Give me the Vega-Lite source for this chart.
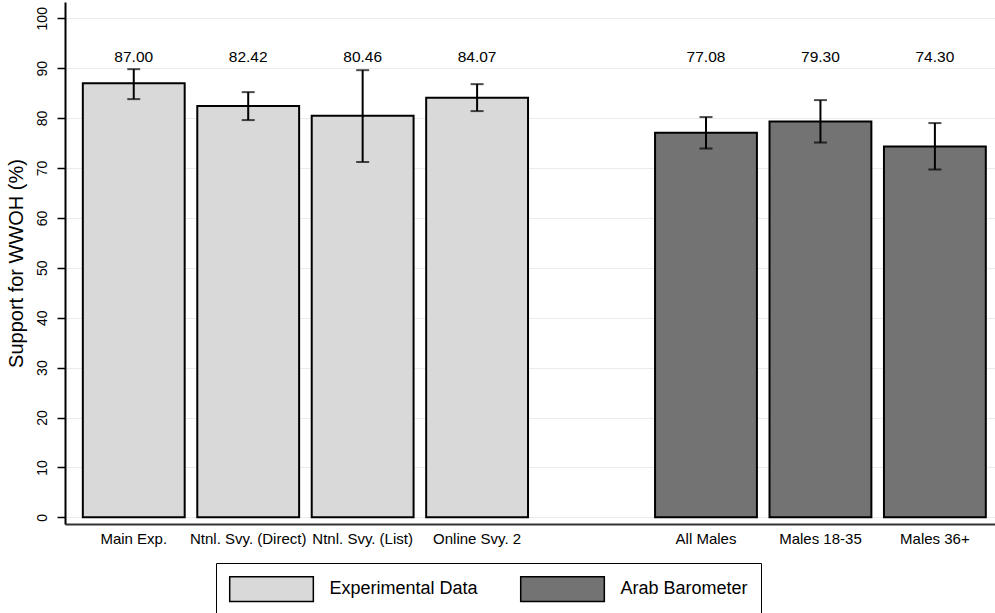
{
  "$schema": "https://vega.github.io/schema/vega-lite/v6.json",
  "width": 930,
  "height": 522,
  "autosize": {"type": "none"},
  "padding": {"left": 65, "top": 2, "right": 0, "bottom": 89},
  "background": "white",
  "config": {
    "view": {"stroke": null},
    "font": "Liberation Sans"
  },
  "data": {
    "values": [
      {"cat": "Main Exp.", "group": "Experimental Data", "value": 87.00, "lo": 83.8, "hi": 89.8},
      {"cat": "Ntnl. Svy. (Direct)", "group": "Experimental Data", "value": 82.42, "lo": 79.6, "hi": 85.2},
      {"cat": "Ntnl. Svy. (List)", "group": "Experimental Data", "value": 80.46, "lo": 71.2, "hi": 89.6},
      {"cat": "Online Svy. 2", "group": "Experimental Data", "value": 84.07, "lo": 81.4, "hi": 86.8},
      {"cat": "All Males", "group": "Arab Barometer", "value": 77.08, "lo": 73.9, "hi": 80.2},
      {"cat": "Males 18-35", "group": "Arab Barometer", "value": 79.30, "lo": 75.1, "hi": 83.6},
      {"cat": "Males 36+", "group": "Arab Barometer", "value": 74.30, "lo": 69.7, "hi": 79.0}
    ]
  },
  "encoding": {
    "x": {
      "field": "cat",
      "type": "nominal",
      "sort": null,
      "scale": {
        "domain": ["Main Exp.", "Ntnl. Svy. (Direct)", "Ntnl. Svy. (List)", "Online Svy. 2", " ", "All Males", "Males 18-35", "Males 36+"],
        "paddingInner": 0.11,
        "paddingOuter": 0.118,
        "align": 0.66
      },
      "axis": {
        "title": null,
        "labelAngle": 0,
        "ticks": false,
        "labelPadding": 7,
        "labelFontSize": 15,
        "labelColor": "black",
        "labelLimit": 200,
        "labelOverlap": false,
        "domainColor": "#333333",
        "domainWidth": 2,
        "grid": false
      }
    }
  },
  "layer": [
    {
      "mark": {"type": "bar", "stroke": "black", "strokeWidth": 2},
      "encoding": {
        "y": {
          "field": "value",
          "type": "quantitative",
          "scale": {"domain": [-1.34, 103.26], "nice": false, "zero": false},
          "axis": {
            "title": "Support for WWOH (%)",
            "titleFontSize": 20,
            "titleFontWeight": "normal",
            "titleColor": "black",
            "titlePadding": 9,
            "values": [0, 10, 20, 30, 40, 50, 60, 70, 80, 90, 100],
            "labelAngle": -90,
            "labelFontSize": 14,
            "labelColor": "black",
            "labelPadding": 8,
            "tickSize": 8,
            "tickColor": "black",
            "tickWidth": 1.5,
            "domainColor": "black",
            "domainWidth": 2,
            "grid": true,
            "gridColor": "#ebebeb",
            "gridWidth": 1
          }
        },
        "fill": {
          "field": "group",
          "type": "nominal",
          "scale": {"domain": ["Experimental Data", "Arab Barometer"], "range": ["#d9d9d9", "#737373"]},
          "legend": {
            "title": null,
            "orient": "none",
            "legendX": 151,
            "legendY": 561,
            "direction": "horizontal",
            "gridAlign": "all",
            "symbolType": "M-1,-1H5.8V1H-1Z",
            "symbolSize": 605,
            "symbolStrokeColor": "black",
            "symbolStrokeWidth": 1.5,
            "symbolOpacity": 1,
            "labelFontSize": 18,
            "labelColor": "black",
            "labelOffset": 74,
            "labelLimit": 400,
            "columnPadding": 39,
            "padding": 12.5,
            "strokeColor": "black",
            "fillColor": "white"
          }
        }
      }
    },
    {
      "mark": {"type": "rule", "color": "black", "strokeWidth": 2},
      "encoding": {
        "y": {"field": "lo", "type": "quantitative"},
        "y2": {"field": "hi"}
      }
    },
    {
      "mark": {"type": "tick", "color": "black", "thickness": 2, "size": 13, "orient": "horizontal"},
      "encoding": {"y": {"field": "lo", "type": "quantitative"}}
    },
    {
      "mark": {"type": "tick", "color": "black", "thickness": 2, "size": 13, "orient": "horizontal"},
      "encoding": {"y": {"field": "hi", "type": "quantitative"}}
    },
    {
      "mark": {"type": "text", "fontSize": 15.5, "color": "black", "baseline": "middle"},
      "encoding": {
        "y": {"datum": 92.3},
        "text": {"field": "value", "type": "quantitative", "format": ".2f"}
      }
    }
  ]
}
